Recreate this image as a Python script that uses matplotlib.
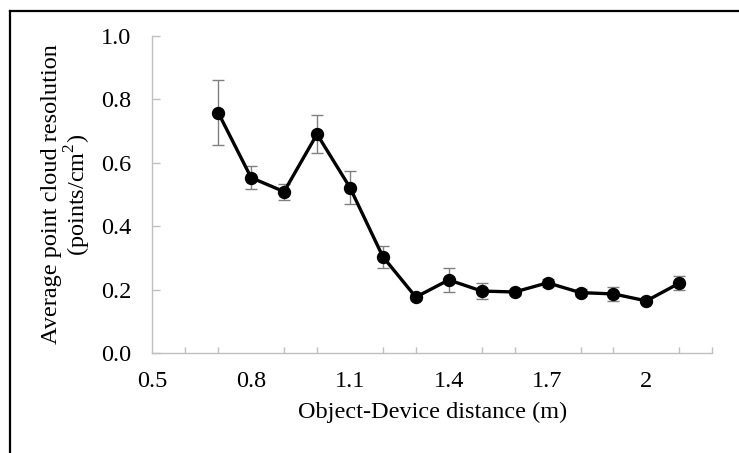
import matplotlib
matplotlib.use("Agg")
import matplotlib.pyplot as plt
from matplotlib.lines import Line2D

# data
distance = [0.7, 0.8, 0.9, 1.0, 1.1, 1.2, 1.3, 1.4, 1.5, 1.6, 1.7, 1.8, 1.9, 2.0, 2.1]
resolution = [0.758, 0.553, 0.509, 0.690, 0.522, 0.304, 0.177, 0.231,
              0.196, 0.193, 0.222, 0.191, 0.187, 0.165, 0.221]
error = [0.102, 0.036, 0.025, 0.060, 0.052, 0.035, 0.010, 0.037,
         0.025, 0.010, 0.012, 0.010, 0.022, 0.008, 0.021]

x_major = [0.5, 0.8, 1.1, 1.4, 1.7, 2.0]
x_major_labels = ["0.5", "0.8", "1.1", "1.4", "1.7", "2"]
y_major = [0.0, 0.2, 0.4, 0.6, 0.8, 1.0]

plt.rcParams['font.family'] = ['Liberation Serif', 'DejaVu Serif']
plt.rcParams['mathtext.fontset'] = 'custom'
plt.rcParams['mathtext.rm'] = 'Liberation Serif'

W, H = 739, 453
fs = 17.5
fig = plt.figure(figsize=(W / 100, H / 100), dpi=100)
ax = fig.add_axes([152.3 / W, 1 - 353.3 / H, 560 / W, 317.6 / H])

grey = '#bfbfbf'
ax.errorbar(distance, resolution, yerr=error, fmt='none', ecolor='#808080',
            elinewidth=1, capsize=4, capthick=1, zorder=2)
ax.plot(distance, resolution, color='black', lw=2.4, marker='o', ms=8.6, zorder=3)

ax.set_xlim(0.5, 2.2)
ax.set_ylim(0.0, 1.0)
ax.set_xticks(x_major)
ax.set_xticklabels(x_major_labels)
ax.set_xticks([0.5 + 0.1 * i for i in range(18)], minor=True)
ax.set_yticks(y_major)
ax.set_yticklabels([f"{v:.1f}" for v in y_major])

for s in ['top', 'right']:
    ax.spines[s].set_visible(False)
for s in ['left', 'bottom']:
    ax.spines[s].set_color(grey)
    ax.spines[s].set_linewidth(1)

ax.tick_params(axis='y', direction='in', length=6, width=1, color=grey,
               labelsize=fs, pad=15)
ax.tick_params(axis='x', which='major', length=0, labelsize=fs, pad=13)
ax.tick_params(axis='x', which='minor', direction='in', length=4, width=1, color=grey)

ax.set_xlabel("Object-Device distance (m)", fontsize=fs, labelpad=7)
fig.text(67 / W, 1 - 194.5 / H,
         "Average point cloud resolution\n(points/cm$^2$)",
         rotation=90, ha='center', va='center', multialignment='center',
         fontsize=fs, linespacing=1.0)

# outer frame (top and left edges visible)
fig.add_artist(Line2D([10 / W, 10 / W], [0, 1 - 11 / H], color='black', lw=1.6,
                      transform=fig.transFigure))
fig.add_artist(Line2D([10 / W, 1], [1 - 11 / H, 1 - 11 / H], color='black', lw=1.6,
                      transform=fig.transFigure))

fig.savefig("out.png", dpi=100)
